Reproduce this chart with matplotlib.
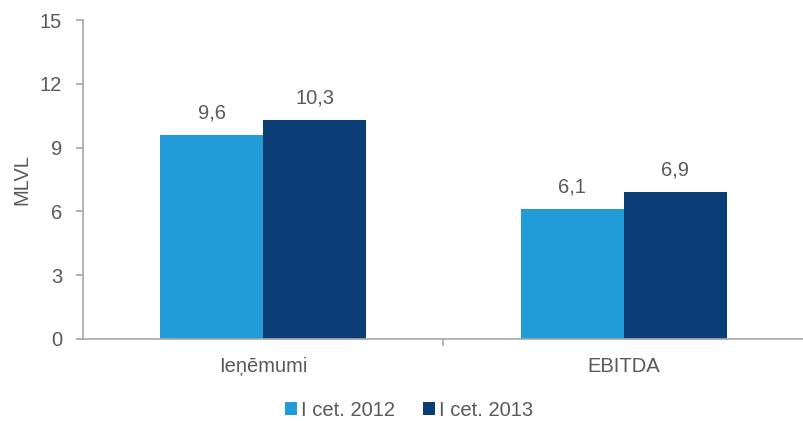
import numpy as np
import matplotlib.pyplot as plt

plt.rcParams["font.family"] = ["Liberation Sans", "DejaVu Sans"]

categories = ["Ieņēmumi", "EBITDA"]
series_names = ["I cet. 2012", "I cet. 2013"]
values_2012 = [9.6, 6.1]
values_2013 = [10.3, 6.9]
labels_2012 = ["9,6", "6,1"]
labels_2013 = ["10,3", "6,9"]

light = "#229cd9"
dark = "#0a3d75"
text_color = "#595959"
axis_color = "#a6a6a6"
fs = 14.5

fig = plt.figure(figsize=(8.04, 4.21), dpi=100)
ax = fig.add_axes([83 / 804, 1 - 339 / 421, 721 / 804, 319 / 421])

x = np.arange(len(categories))
w = 0.286
b1 = ax.bar(x - w / 2, values_2012, w, color=light, label=series_names[0])
b2 = ax.bar(x + w / 2, values_2013, w, color=dark, label=series_names[1])

for bars, labels in ((b1, labels_2012), (b2, labels_2013)):
    for bar, lab in zip(bars, labels):
        ax.text(bar.get_x() + bar.get_width() / 2, bar.get_height() + 0.6, lab,
                ha="center", va="bottom", fontsize=fs, color=text_color)

ax.set_xlim(-0.5, 1.5)
ax.set_ylim(0, 15)
ax.set_yticks([0, 3, 6, 9, 12, 15])
ax.set_xticks(x)
ax.set_xticklabels(categories)
ax.set_xticks([0.5], minor=True)

for side in ("top", "right"):
    ax.spines[side].set_visible(False)
for side in ("left", "bottom"):
    ax.spines[side].set_color(axis_color)
    ax.spines[side].set_linewidth(1.2)

ax.tick_params(axis="y", colors=axis_color, labelcolor=text_color, labelsize=fs,
               length=5, width=1.2, pad=10)
ax.tick_params(axis="x", which="major", length=0, labelcolor=text_color,
               labelsize=fs, pad=13)
ax.tick_params(axis="x", which="minor", length=5, width=1.2, color=axis_color)

ax.set_ylabel("MLVL", fontsize=fs, color=text_color, labelpad=6)

# legend sits a bit left of the axes centre in the original
fig.legend(loc="center", bbox_to_anchor=(409 / 804, 1 - 410 / 421), ncol=2,
           frameon=False, fontsize=fs, labelcolor=text_color, handlelength=0.6,
           handleheight=0.6, handletextpad=0.2, columnspacing=1.4)

plt.savefig("out.png")
